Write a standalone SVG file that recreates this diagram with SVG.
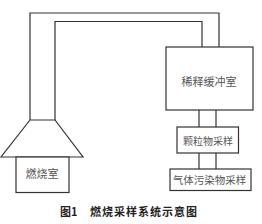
<svg xmlns="http://www.w3.org/2000/svg" width="262" height="224" viewBox="0 0 262 224">
<style>
.ln{fill:none;stroke:#333;stroke-width:1.2}
.bx{fill:#fff;stroke:#333;stroke-width:1.2}
.t{font-family:"Noto Sans CJK SC","Noto Sans",sans-serif;font-size:11px;fill:#555;text-anchor:middle;dominant-baseline:central}
.cap{font-family:"Noto Sans CJK SC","Noto Sans",sans-serif;font-size:11px;font-weight:bold;fill:#222;dominant-baseline:central}
</style>
<rect width="262" height="224" fill="#fff"/>
<g id="connectors">
<polyline class="ln" points="30,120 30,13 219,13 219,47"/>
<polyline class="ln" points="55,120 55,21.5 202,21.5 202,47"/>
<line class="ln" x1="199" y1="110" x2="199" y2="127"/>
<line class="ln" x1="216" y1="110" x2="216" y2="127"/>
<line class="ln" x1="199" y1="153" x2="199" y2="169"/>
<line class="ln" x1="216" y1="153" x2="216" y2="169"/>
</g>
<g id="hood">
<polygon class="bx" points="30,120 55,120 83,157 1,157"/>
</g>
<g id="combustion">
<rect class="bx" x="16" y="157" width="53" height="35.5"/>
<text class="t" x="42" y="173">燃烧室</text>
</g>
<g id="dilution">
<rect class="bx" x="166" y="47" width="87" height="63"/>
<text class="t" x="209" y="81">稀释缓冲室</text>
</g>
<g id="particle">
<rect class="bx" x="177" y="127" width="61.5" height="26"/>
<text class="t" x="208" y="140" style="font-size:10px">颗粒物采样</text>
</g>
<g id="gas">
<rect class="bx" x="170" y="169" width="81" height="21.5"/>
<text class="t" x="209.5" y="179" style="font-size:10.5px">气体污染物采样</text>
</g>
<text class="cap" x="60" y="211">图1</text>
<text class="cap" x="90" y="211" textLength="107">燃烧采样系统示意图</text>
</svg>
